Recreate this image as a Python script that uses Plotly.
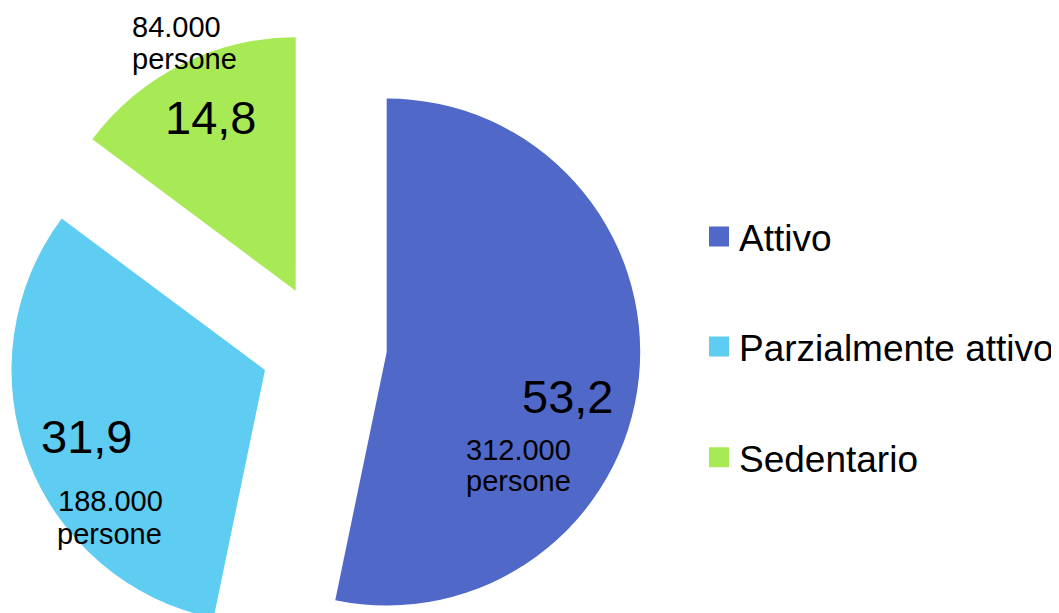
import plotly.graph_objects as go

# ---- data ----
categories = ["Attivo", "Parzialmente attivo", "Sedentario"]
percent = [53.2, 31.9, 14.8]
persons = [312000, 188000, 84000]
unit_label = "persone"

# ---- style / layout (screen pixel targets) ----
colors = ["#5068C8", "#5FCDF2", "#A8EA55"]
W, H = 1059, 630          # figure size (page shows it offset by the body margin)
OFF = 8                   # default page body margin
R = 253.5
slice_centers = [(386.7, 352.0), (265.0, 370.0), (295.7, 290.7)]  # exploded slice centres
big_pos = [(567.5, 396.7), (86.7, 436.7), (210.5, 117.5)]
count_pos = [(518.3, 450.0), (110.8, 500.5), (176.7, 26.7)]
unit_pos = [(518.0, 480.5), (109.0, 533.8), (184.2, 59.3)]
legend_y = [237.0, 347.0, 457.7]
legend_left = 699.0
FONT = "Liberation Sans, Arial, sans-serif"


def px(sx):
    return (sx - OFF) / W


def py(sy):
    return 1 - (sy - OFF) / H


fig = go.Figure()

for i, (cx, cy) in enumerate(slice_centers):
    cols = [colors[j] if j == i else "rgba(0,0,0,0)" for j in range(len(categories))]
    fig.add_trace(go.Pie(
        labels=categories, values=percent, sort=False, direction="clockwise",
        rotation=0, marker=dict(colors=cols, line=dict(width=0)),
        textinfo="none", hoverinfo="skip", showlegend=False,
        domain=dict(x=[px(cx - R), px(cx + R)],
                    y=[max(0.0, py(cy + R)), min(1.0, py(cy - R))]),
    ))

legend_names = ["legend", "legend2", "legend3"]
for i, cat in enumerate(categories):
    fig.add_trace(go.Scatter(
        x=[None], y=[None], mode="markers", name=cat,
        marker=dict(symbol="square", size=16, color=colors[i],
                    line=dict(width=4, color=colors[i])),
        legend=legend_names[i], showlegend=True, hoverinfo="skip",
    ))


def fmt_pct(v):
    return f"{v:.1f}".replace(".", ",")


def fmt_int(n):
    return f"{n:,}".replace(",", ".")


ann = []
for i in range(len(categories)):
    bx, by = big_pos[i]
    ann.append(dict(text=fmt_pct(percent[i]), x=px(bx), y=py(by),
                    font=dict(size=47, family=FONT, color="black")))
    cx_, cy_ = count_pos[i]
    ann.append(dict(text=fmt_int(persons[i]), x=px(cx_), y=py(cy_),
                    font=dict(size=29, family=FONT, color="black")))
    ux, uy = unit_pos[i]
    ann.append(dict(text=unit_label, x=px(ux), y=py(uy),
                    font=dict(size=29, family=FONT, color="black")))
for a in ann:
    a.update(xref="paper", yref="paper", showarrow=False,
             xanchor="center", yanchor="middle")

layout_legends = {}
for i, ln in enumerate(legend_names):
    layout_legends[ln] = dict(
        x=px(legend_left), xanchor="left", y=py(legend_y[i]), yanchor="middle",
        font=dict(size=37, family=FONT, color="black"),
        bgcolor="rgba(0,0,0,0)", borderwidth=0,
    )

fig.update_layout(
    width=W, height=H,
    margin=dict(l=0, r=0, t=0, b=0, autoexpand=False),
    paper_bgcolor="white", plot_bgcolor="white",
    xaxis=dict(visible=False), yaxis=dict(visible=False),
    annotations=ann,
    **layout_legends,
)

fig.write_html("out.html")
